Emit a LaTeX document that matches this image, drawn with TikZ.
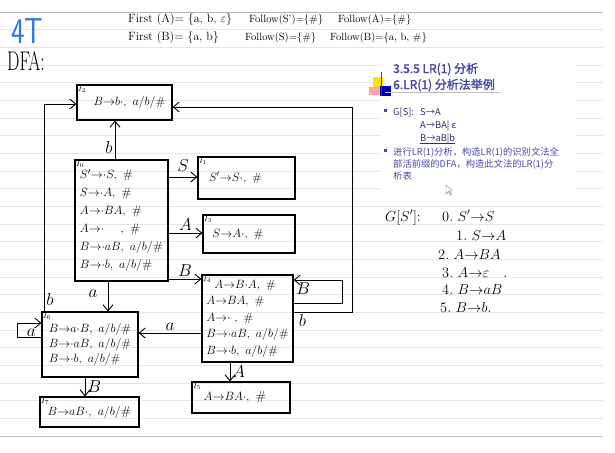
\documentclass[tikz,border=0pt]{standalone}
\usepackage{fontspec}
\newfontfamily\cjk[AutoFakeBold=2]{Noto Sans CJK SC}
\usetikzlibrary{arrows.meta}
\definecolor{inkblue}{RGB}{45,120,225}
\definecolor{slidetitle}{RGB}{72,72,170}
\definecolor{slidenavy}{RGB}{45,45,110}
\newcommand{\yields}{{\to}}
\newcommand{\itemdot}{{\cdot}}
\tikzstyle{state}=[draw, line width=1.1pt, inner sep=2pt, align=left, font=\fontsize{12}{16}\selectfont]
\tikzstyle{state name}=[anchor=north west, inner sep=1.5pt, font=\fontsize{8}{8}\selectfont]
\tikzstyle{transition}=[-{Straight Barb[length=6pt,width=10pt]}, line width=0.9pt]
\tikzstyle{symbol}=[inner sep=2pt, font=\fontsize{17}{17}\selectfont]
\tikzstyle{note}=[anchor=base west, inner sep=0pt, font=\fontsize{12}{12}\selectfont]
\tikzstyle{follow note}=[note, font=\fontsize{10.5}{12}\selectfont]
\tikzstyle{ruling}=[draw=black!10, line width=0.6pt]
\tikzstyle{slide}=[anchor=base west, inner sep=0pt, font=\cjk\fontsize{9.3}{12}\selectfont]
\tikzstyle{grammar}=[anchor=base west, inner sep=0pt, font=\fontsize{14}{14}\selectfont]

\begin{document}
\begin{tikzpicture}[x=1pt, y=-1pt]
  \useasboundingbox (0,0) rectangle (615,452);
  % ruled paper
  \foreach \k in {1,...,23}
    \draw[ruling] (0,{12+17.67*\k}) -- (603,{12+17.67*\k});
  \draw[ruling, draw=black!30] (0,12) -- (603,12);
  \draw[ruling, draw=black!25] (0,436) -- (603,436);

  % heading
  \node[inner sep=0pt, text=inkblue] (page_no) at (27,31)
    {\scalebox{0.8}[1]{\fontsize{36}{36}\selectfont\sffamily 4T}};
  \node[inner sep=0pt] (dfa_head) at (26,61)
    {\scalebox{0.65}[1]{\fontsize{27}{27}\selectfont DFA:}};
  \node[note] (first_a) at (128,23) {First (A)= \{a, b, $\varepsilon$\}};
  \node[follow note] (follow_s1) at (249,23) {Follow(S')=\{\#\}};
  \node[follow note] (follow_a) at (338,23) {Follow(A)=\{\#\}};
  \node[note] (first_b) at (128,41) {First (B)= \{a, b\}};
  \node[follow note] (follow_s) at (245,41) {Follow(S)=\{\#\}};
  \node[follow note] (follow_b) at (330,41) {Follow(B)=\{a, b, \#\}};

  % states
  \node[state, minimum width=95pt, minimum height=35pt] (i_2) at (124.5,102.5)
    {\hspace*{10pt}$B\yields b\itemdot,\ a/b/\#$};
  \node[state, minimum width=93pt, minimum height=121pt, font=\fontsize{12.5}{18}\selectfont] (i_0) at (121.5,220.5)
    {$S'\yields\itemdot S,\ \#$\\ $S\yields\itemdot A,\ \#$\\ $A\yields\itemdot BA,\ \#$\\ $A\yields\itemdot\quad\ ,\ \#$\\
     $B\yields\itemdot aB,\ a/b/\#$\\ $B\yields\itemdot b,\ a/b/\#$};
  \node[state, minimum width=97pt, minimum height=42pt] (i_1) at (246.5,178)
    {$S'\yields S\itemdot,\ \#$\hspace*{22pt}};
  \node[state, minimum width=92pt, minimum height=38pt] (i_3) at (249,234)
    {$S\yields A\itemdot,\ \#$\hspace*{22pt}};
  \node[state, minimum width=91pt, minimum height=87pt, font=\fontsize{12}{16.5}\selectfont] (i_4) at (247.5,318.5)
    {\hspace*{8pt}$A\yields B\itemdot A,\ \#$\\ $A\yields BA,\ \#$\\ $A\yields\itemdot\ ,\ \#$\\ $B\yields\itemdot aB,\ a/b/\#$\\
     $B\yields\itemdot b,\ a/b/\#$};
  \node[state, minimum width=96pt, minimum height=65pt, font=\fontsize{12}{15}\selectfont] (i_6) at (90,344.5)
    {$B\yields a\itemdot B,\ a/b/\#$\\ $B\yields\itemdot aB,\ a/b/\#$\\ $B\yields\itemdot b,\ a/b/\#$};
  \node[state, minimum width=99pt, minimum height=30pt, font=\fontsize{13}{16}\selectfont] (i_7) at (89.5,412)
    {$B\yields aB\itemdot,\ a/b/\#$};
  \node[state, minimum width=98pt, minimum height=31pt, font=\fontsize{13}{16}\selectfont] (i_5) at (241,397.5)
    {$A\yields BA\itemdot,\ \#$\hspace*{12pt}};
  \node[state name] (i_0_tag) at (i_0.north west) {$I_0$};
  \node[state name] (i_1_tag) at (i_1.north west) {$I_1$};
  \node[state name] (i_2_tag) at (i_2.north west) {$I_2$};
  \node[state name] (i_3_tag) at (i_3.north west) {$I_3$};
  \node[state name] (i_4_tag) at (i_4.north west) {$I_4$};
  \node[state name] (i_5_tag) at (i_5.north west) {$I_5$};
  \node[state name] (i_6_tag) at (i_6.north west) {$I_6$};
  \node[state name] (i_7_tag) at (i_7.north west) {$I_7$};

  % transitions
  \draw[transition] (i_0.north -| 115,0) -- node[symbol, left, pos=0.3] (sym_b0) {$b$} (i_2.south -| 115,0);
  \draw[transition] (i_0.east |- 0,177) -- node[symbol, above=3pt] (sym_s) {$S$} (i_1.west |- 0,177);
  \draw[transition] (i_0.east |- 0,233) -- node[symbol, above] (sym_a) {$A$} (i_3.west |- 0,233);
  \draw[transition] (i_0.east |- 0,279) -- node[symbol, above] (sym_b) {$B$} (i_4.west |- 0,279);
  \draw[transition] (i_0.south -| 108,0) -- node[symbol, left=8pt, pos=0.4] (sym_a0) {$a$} (i_6.north -| 108,0);
  \draw[transition] (i_6.south -| 85,0) -- node[symbol, right] (sym_b6) {$B$} (i_7.north -| 85,0);
  \draw[transition] (i_4.south -| 230,0) -- node[symbol, right] (sym_a4) {$A$} (i_5.north -| 230,0);
  \draw[transition] (i_4.west |- 0,333) -- node[symbol, above] (sym_a46) {$a$} (i_6.east |- 0,333);
  \draw[transition] (i_6.north -| 44,0) |- node[symbol, right, pos=0.03] (sym_b62) {$b$} (i_2.west |- 0,104);
  \draw[transition] (i_6.west |- 0,337) -- node[symbol, above, inner sep=0.5pt, pos=0.42] (sym_a6) {$a$}
    ++(-24,0) |- (i_6.west |- 0,323);
  \draw[transition] (i_4.east |- 0,303) -- ++(49,0) |- node[symbol, below, pos=0.9] (sym_b4) {$B$}
    (i_4.east |- 0,280);
  \draw[transition] (i_4.east |- 0,312) -- node[symbol, below, pos=0.15] (sym_b42) {$b$}
    ++(59,0) |- (i_2.east |- 0,107);

  % slide
  \fill[white] (380,55) rectangle (576,198);
  \fill[yellow!85!orange] (373,77) rectangle (383,87);
  \fill[red!45, opacity=0.8] (369,87) rectangle (380,95);
  \fill[blue!70!black] (380,86) rectangle (391,96);
  \draw[black!70, line width=0.8pt] (381,72) -- (381,96);
  \draw[black!25, line width=0.6pt] (385,92) -- (500,92);
  \node[slide, font=\cjk\bfseries\fontsize{12}{14}\selectfont, text=slidetitle] (title_a) at (393,73) {3.5.5 LR(1) 分析};
  \node[slide, font=\cjk\bfseries\fontsize{12}{14}\selectfont, text=slidetitle] (title_b) at (393,89) {6.LR(1) 分析法举例};
  \fill[slidetitle] (383.5,109) rectangle +(3,3);
  \fill[slidetitle] (383.5,149) rectangle +(3,3);
  \node[slide, text=slidenavy] (g_head) at (393,115) {G[S]:};
  \node[slide, text=slidenavy] (g_1) at (420,115) {S→A};
  \node[slide, text=slidenavy] (g_2) at (420,128) {A→BA| ε};
  \node[slide, text=slidenavy] (g_3) at (420,141) {B→aB|b};
  \draw[slidenavy, line width=0.5pt] (420,143) -- (455,143);
  \node[slide, text=slidetitle] (task_1) at (393,155) {进行LR(1)分析，构造LR(1)的识别文法全};
  \node[slide, text=slidetitle] (task_2) at (393,167) {部活前缀的DFA，构造此文法的LR(1)分};
  \node[slide, text=slidetitle] (task_3) at (393,179) {析表};
  \draw[black!50, fill=white, line width=0.4pt] (446,185) -- (446,194) -- (448.5,191.5) -- (450.5,195)
    -- (451.5,194.5) -- (449.5,191) -- (452.5,191) -- cycle;

  % grammar
  \node[grammar] (g_start) at (385,221) {$G[S']$:};
  \node[grammar] (rule_0) at (442,221) {$0.\ S'\yields S$};
  \node[grammar] (rule_1) at (456,240) {$1.\ S\yields A$};
  \node[grammar] (rule_2) at (438,259) {$2.\ A\yields BA$};
  \node[grammar] (rule_3) at (442,277) {$3.\ A\yields\varepsilon\quad .$};
  \node[grammar] (rule_4) at (442,294) {$4.\ B\yields aB$};
  \node[grammar] (rule_5) at (440,312) {$5.\ B\yields b.$};
\end{tikzpicture}
\end{document}
